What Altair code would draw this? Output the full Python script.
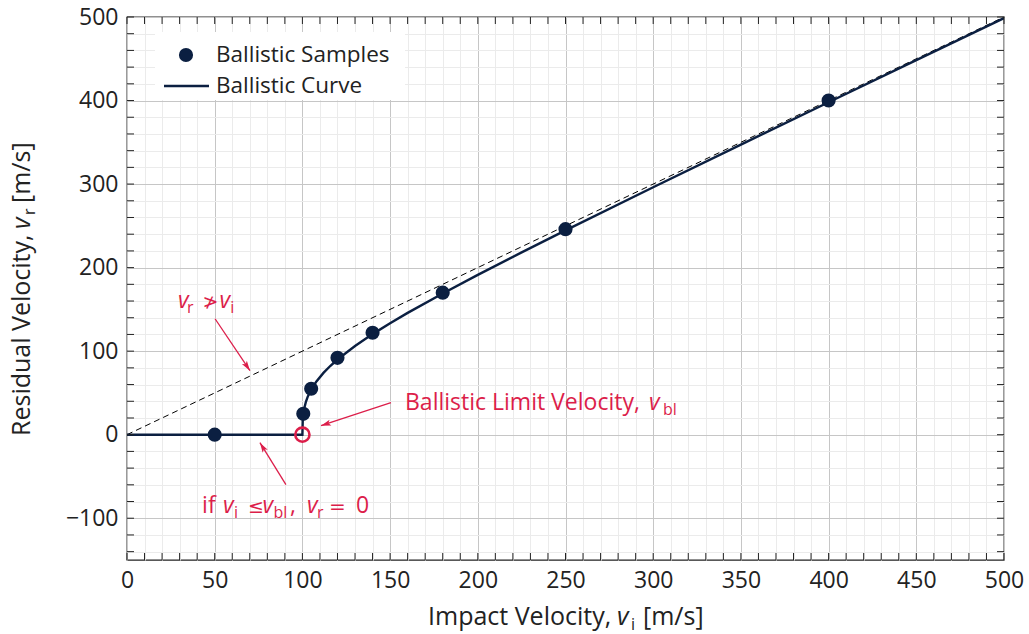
import math

import altair as alt
import pandas as pd

# ---- style -------------------------------------------------------------
NAVY = "#0b1f41"
RED = "#dc1e4a"
INK = "#222222"
GRID_MAJOR = "#c6c6c6"
GRID_MINOR = "#ebebeb"
FONT = "Open Sans"
MATH_FONT = "DejaVu Sans"

W, H = 877, 543
X_DOMAIN = [0, 500]
Y_DOMAIN = [-150, 500]

# ---- data --------------------------------------------------------------
# measured ballistic samples
sample_vi = [50, 100.5, 105, 120, 140, 180, 250, 400]
sample_vr = [0, 25, 55, 92, 122, 170, 246, 400]

# fitted ballistic curve
curve_vi = [0, 100, 100.2, 100.5, 101, 102, 103, 105, 108, 112, 116, 120, 130,
            140, 150, 160, 180, 200, 225, 250, 300, 350, 400, 450, 500]
curve_vr = [0, 0, 18.2, 24.7, 31.2, 39.4, 45.3, 54.0, 63.8, 74.0, 82.5, 90.0,
            106.2, 120.4, 133.4, 145.8, 169.0, 191.3, 218.2, 244.5, 296.2,
            347.3, 397.9, 448.3, 498.7]

# upper bound v_r = v_i
bound_vi = [0, 500]
bound_vr = [0, 500]

# ballistic limit velocity
blv_vi = [100]
blv_vr = [0]

# annotation arrows: tail (x0, y0) -> tip (x1, y1)
arrow_x0 = [50.2, 90.6, 150.5]
arrow_y0 = [138.8, -59.8, 38.3]
arrow_x1 = [70.1, 75.8, 110.6]
arrow_y1 = [76.6, -9.6, 10.8]

# annotation text runs:
# n = upright, i = italic, s = subscript, m = relation symbol, e = equals sign
ann_text = ["v", "r", "\u226f", "v", "i",
            "Ballistic Limit Velocity,", "v", "bl",
            "if", "v", "i", "\u2264", "v", "bl", ",", "v", "r", "=", "0"]
ann_kind = ["i", "s", "m", "i", "s",
            "n", "i", "s",
            "n", "i", "s", "m", "i", "s", "n", "i", "s", "e", "n"]
ann_x = [29.1, 34.2, 43.0, 52.7, 58.9,
         158.5, 297.6, 305.6,
         42.8, 54.7, 61.0, 69.0, 77.2, 83.5, 93.0, 102.6, 108.3, 115.2, 130.6]
ann_y = [151.9] * 5 + [29.9] * 3 + [-93.3] * 11

x_ticks = list(range(0, 501, 10))
y_ticks = list(range(-140, 501, 20))

# ---- scales & axes -----------------------------------------------------
xs = alt.Scale(domain=X_DOMAIN, nice=False, zero=False)
ys = alt.Scale(domain=Y_DOMAIN, nice=False, zero=False)


def grid_axis(values, major):
    test = f"datum.value % {major} === 0"
    return alt.Axis(
        values=values,
        labelExpr=f"{test} ? datum.label : ''",
        ticks=False,
        domain=False,
        grid=True,
        gridColor={"condition": {"test": test, "value": GRID_MAJOR}, "value": GRID_MINOR},
        gridWidth=1,
        labelFont=FONT,
        labelFontSize=23,
        labelColor=INK,
        labelPadding=9,
        labelOverlap=False,
        labelFlush=False,
        title=None,
    )


x_axis = grid_axis(x_ticks, 50)
y_axis = grid_axis(y_ticks, 100)


# every data layer shares the same scale and the same axis definition
def X(field):
    return alt.X(field, type="quantitative", scale=xs, axis=x_axis)


def Y(field):
    return alt.Y(field, type="quantitative", scale=ys, axis=y_axis)


ONE = pd.DataFrame({"k": [0]})

# ---- data layers -------------------------------------------------------
bound = alt.Chart(pd.DataFrame({"vi": bound_vi, "vr": bound_vr})).mark_line(
    color="black", strokeWidth=1, strokeDash=[6, 4], clip=True
).encode(x=X("vi"), y=Y("vr"))

curve_df = pd.DataFrame({"vi": curve_vi, "vr": curve_vr, "i": range(len(curve_vi))})
curve = alt.Chart(curve_df).mark_line(color=NAVY, strokeWidth=2.4, clip=True).encode(
    x=X("vi"), y=Y("vr"), order=alt.Order("i:Q")
)

samples = alt.Chart(pd.DataFrame({"vi": sample_vi, "vr": sample_vr})).mark_circle(
    size=200, color=NAVY, opacity=1
).encode(x=X("vi"), y=Y("vr"))

blv = alt.Chart(pd.DataFrame({"vi": blv_vi, "vr": blv_vr})).mark_point(
    shape="circle", size=200, strokeWidth=2.6, color=RED, filled=False, opacity=1
).encode(x=X("vi"), y=Y("vr"))

# ---- arrows ------------------------------------------------------------
kx = W / (X_DOMAIN[1] - X_DOMAIN[0])
ky = H / (Y_DOMAIN[1] - Y_DOMAIN[0])
arrow_angle = []
for a0, b0, a1, b1 in zip(arrow_x0, arrow_y0, arrow_x1, arrow_y1):
    sx = (a1 - a0) * kx
    sy = -(b1 - b0) * ky
    arrow_angle.append(math.degrees(math.atan2(sx, -sy)) % 360)

arrow_df = pd.DataFrame({"x0": arrow_x0, "y0": arrow_y0, "x1": arrow_x1,
                         "y1": arrow_y1, "ang": arrow_angle})
shafts = alt.Chart(arrow_df).mark_rule(color=RED, strokeWidth=1.3).encode(
    x=X("x0"), y=Y("y0"), x2="x1", y2="y1"
)
HEAD = "M0,0L-0.6,2L0,1.55L0.6,2Z"
heads = alt.Chart(arrow_df).mark_point(
    shape=HEAD, size=100, filled=True, color=RED, opacity=1
).encode(x=X("x1"), y=Y("y1"), angle=alt.Angle("ang:Q", scale=None))

# ---- annotation text ---------------------------------------------------
ann_df = pd.DataFrame({"t": ann_text, "kind": ann_kind, "x": ann_x, "y": ann_y})
ann_style = {
    "n": dict(font=FONT, fontSize=23),
    "i": dict(font=FONT, fontSize=23, fontStyle="italic"),
    "s": dict(font=FONT, fontSize=16, dy=5),
    "m": dict(font=MATH_FONT, fontSize=19),
    "e": dict(font=MATH_FONT, fontSize=20),
}
ann_layers = [
    alt.Chart(ann_df).transform_filter(alt.datum.kind == k).mark_text(
        color=RED, align="left", baseline="alphabetic", **st
    ).encode(x=X("x"), y=Y("y"), text="t:N")
    for k, st in ann_style.items()
]


# ---- axis titles (pixel placement around the plot) --------------------
def piece(text, x, y, size=25, italic=False, sub=False, angle=0, color=INK,
          baseline="alphabetic"):
    kw = dict(text=text, font=FONT, fontSize=16 if sub else size, color=color,
              align="left", baseline=baseline)
    if italic:
        kw["fontStyle"] = "italic"
    if sub:
        kw["dy"] = 5
    if angle:
        kw["angle"] = angle
    return alt.Chart(ONE).mark_text(**kw).encode(x=alt.value(x), y=alt.value(y))


titles = [
    piece("Impact Velocity,", 301, 608),
    piece("v", 490, 608, italic=True),
    piece("i", 504, 608, sub=True),
    piece("[m/s]", 516, 608),
    piece("Residual Velocity,", -97, 419, angle=270),
    piece("v", -97, 212, italic=True, angle=270),
    piece("r", -97, 198, sub=True, angle=270),
    piece("[m/s]", -97, 186, angle=270),
]

# ---- legend ------------------------------------------------------------
legend = [
    alt.Chart(ONE).mark_rect(fill="white", stroke=None).encode(
        x=alt.value(28), x2=alt.value(278), y=alt.value(15), y2=alt.value(83)
    ),
    alt.Chart(ONE).mark_circle(size=200, color=NAVY, opacity=1).encode(
        x=alt.value(59), y=alt.value(38)
    ),
    alt.Chart(ONE).mark_rule(color=NAVY, strokeWidth=2.4).encode(
        x=alt.value(37), x2=alt.value(82), y=alt.value(69)
    ),
    piece("Ballistic Samples", 89, 38, size=22.5, baseline="middle"),
    piece("Ballistic Curve", 89, 69, size=22.5, baseline="middle"),
]

# ---- inward ticks on all four sides ------------------------------------
TICK = 7
tick_x = pd.DataFrame({"v": x_ticks})
tick_y = pd.DataFrame({"v": y_ticks})
ticks = [
    alt.Chart(tick_y).mark_rule(color=INK, strokeWidth=1).encode(
        y=Y("v"), x=alt.value(0), x2=alt.value(TICK)),
    alt.Chart(tick_y).mark_rule(color=INK, strokeWidth=1).encode(
        y=Y("v"), x=alt.value(W - TICK), x2=alt.value(W)),
    alt.Chart(tick_x).mark_rule(color=INK, strokeWidth=1).encode(
        x=X("v"), y=alt.value(H - TICK), y2=alt.value(H)),
    alt.Chart(tick_x).mark_rule(color=INK, strokeWidth=1).encode(
        x=X("v"), y=alt.value(0), y2=alt.value(TICK)),
]

chart = alt.layer(
    bound, curve, samples, blv, shafts, heads, *ann_layers, *titles, *legend, *ticks
).properties(
    width=W,
    height=H,
    autosize=alt.AutoSizeParams(type="none"),
    padding={"left": 127, "top": 17, "right": 25, "bottom": 74},
).configure_view(stroke=INK, strokeWidth=1.3)

chart.save("out.html", embed_options={"renderer": "svg", "actions": False})
